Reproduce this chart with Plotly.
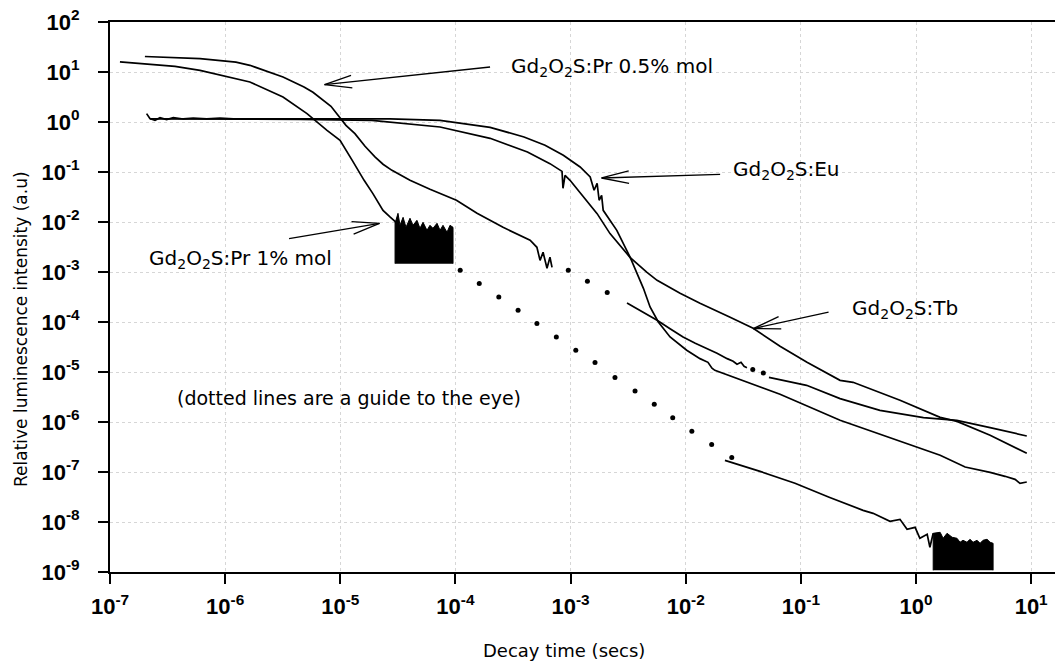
import math
import plotly.graph_objects as go

# ---------------- data (time in s, relative intensity) ----------------
# Gd2O2S:Pr 1% mol
pr1_t = [1.22e-7, 2.01e-7, 3.67e-7, 6.05e-7, 1.10e-6, 1.64e-6, 3.18e-6, 5.14e-6, 7.67e-6, 9.95e-6,
         1.27e-5, 1.61e-5, 1.92e-5, 2.35e-5, 2.70e-5, 3.05e-5]
pr1_i = [16.0, 14.7, 13.0, 10.8, 7.83, 6.31, 3.16, 1.47, 0.682, 0.431,
         0.171, 0.0682, 0.0370, 0.0171, 0.0126, 9.86e-3]
pr1_noise_t = [2.99e-5, 3.17e-5, 3.30e-5, 3.51e-5, 3.72e-5, 4.03e-5, 4.28e-5, 4.63e-5, 4.92e-5, 5.23e-5,
               5.66e-5, 6.01e-5, 6.38e-5, 6.92e-5, 7.35e-5, 7.80e-5, 8.45e-5, 8.97e-5, 9.53e-5]
pr1_noise_top = [9.42e-3, 0.0149, 8.59e-3, 0.0124, 7.83e-3, 0.0119, 8.59e-3, 0.0108, 7.48e-3, 9.86e-3,
                 6.82e-3, 8.59e-3, 7.48e-3, 9.42e-3, 6.82e-3, 8.59e-3, 6.22e-3, 8.59e-3, 7.83e-3]
pr1_noise_floor = 1.47e-3
pr1_guide_t = [1.10e-4, 1.61e-4, 2.38e-4, 3.50e-4, 5.10e-4, 7.52e-4, 1.11e-3, 1.63e-3, 2.43e-3, 3.63e-3,
               5.33e-3, 7.71e-3, 1.13e-2, 1.68e-2, 2.51e-2]
pr1_guide_i = [1.08e-3, 5.86e-4, 3.16e-4, 1.71e-4, 9.29e-5, 5.01e-5, 2.72e-5, 1.54e-5, 7.73e-6, 4.17e-6,
               2.26e-6, 1.22e-6, 6.52e-7, 3.53e-7, 1.94e-7]
pr1_tail_t = [2.19e-2, 4.42e-2, 8.89e-2, 0.176, 0.347, 0.424, 0.594, 0.726, 0.836, 0.982, 1.08, 1.25, 1.32]
pr1_tail_i = [1.71e-7, 1.03e-7, 5.94e-8, 3.12e-8, 1.71e-8, 1.49e-8, 1.03e-8, 1.13e-8, 7.14e-9, 7.83e-9,
              4.72e-9, 5.68e-9, 3.12e-9]
pr1_tail_noise_t = [1.41, 1.62, 1.72, 1.86, 2.06, 2.27, 2.41, 2.56, 2.77, 2.94, 3.13, 3.39, 3.60, 3.82,
                    4.14, 4.40, 4.67]
pr1_tail_noise_top = [5.94e-9, 6.22e-9, 4.72e-9, 5.94e-9, 4.94e-9, 4.72e-9, 3.93e-9, 4.31e-9, 3.93e-9,
                      4.51e-9, 3.93e-9, 4.31e-9, 3.75e-9, 4.31e-9, 4.51e-9, 3.93e-9, 3.75e-9]
pr1_tail_floor = 1.08e-9

# Gd2O2S:Pr 0.5% mol
pr05_t = [2.01e-7, 3.67e-7, 6.05e-7, 1.24e-6, 1.64e-6, 3.18e-6, 4.84e-6, 5.79e-6, 8.30e-6, 1.12e-5,
          1.34e-5, 1.64e-5, 2.00e-5, 2.35e-5, 2.81e-5, 4.03e-5, 6.01e-5, 1.02e-4, 1.54e-4, 2.59e-4,
          3.86e-4, 4.45e-4, 5.10e-4, 5.43e-4, 5.77e-4, 6.24e-4, 6.62e-4, 6.90e-4]
pr05_i = [20.4, 19.7, 18.5, 15.8, 13.6, 7.94, 5.01, 3.93, 2.06, 0.859,
          0.586, 0.327, 0.200, 0.143, 0.108, 0.0682, 0.0451, 0.0272, 0.0149, 7.83e-3,
          4.94e-3, 4.31e-3, 3.12e-3, 1.71e-3, 2.48e-3, 1.19e-3, 1.97e-3, 1.24e-3]
pr05_guide1_t = [9.55e-4, 1.40e-3, 2.08e-3]
pr05_guide1_i = [1.08e-3, 6.52e-4, 3.87e-4]
pr05_mid_t = [3.09e-3, 4.17e-3, 5.64e-3, 7.31e-3, 9.48e-3, 1.21e-2, 1.53e-2, 1.87e-2, 2.29e-2, 2.58e-2,
              2.79e-2, 3.02e-2, 3.21e-2, 3.40e-2]
pr05_mid_i = [2.40e-4, 1.64e-4, 1.08e-4, 7.31e-5, 5.01e-5, 3.75e-5, 2.94e-5, 2.37e-5, 1.85e-5, 1.64e-5,
              1.43e-5, 1.56e-5, 1.30e-5, 1.22e-5]
pr05_guide2_t = [3.82e-2, 4.72e-2]
pr05_guide2_i = [1.12e-5, 9.55e-6]
pr05_end_t = [5.28e-2, 0.112, 0.219, 0.486, 1.16, 2.26, 4.40, 9.16]
pr05_end_i = [7.83e-6, 5.42e-6, 2.94e-6, 1.71e-6, 1.22e-6, 1.08e-6, 7.73e-7, 5.25e-7]

# Gd2O2S:Eu
eu_t = [2.08e-7, 2.22e-7, 2.46e-7, 2.72e-7, 3.10e-7, 3.55e-7, 4.34e-7, 5.28e-7, 6.92e-7, 9.02e-7,
        1.18e-6, 2.99e-6, 8.65e-6, 2.70e-5, 7.35e-5, 2.00e-4, 3.94e-4, 6.00e-4, 8.65e-4, 1.21e-3,
        1.48e-3, 1.60e-3, 1.70e-3, 1.77e-3, 1.86e-3, 1.92e-3, 2.52e-3, 3.28e-3, 4.29e-3, 4.90e-3,
        5.78e-3, 7.31e-3, 1.02e-2, 1.33e-2, 1.56e-2, 1.69e-2, 1.79e-2, 3.27e-2, 6.59e-2, 0.219,
        0.684, 1.62, 2.67, 4.40, 5.93, 7.24, 8.00, 9.16]
eu_i = [1.47, 1.17, 1.08, 1.22, 1.12, 1.22, 1.15, 1.20, 1.15, 1.19,
        1.16, 1.17, 1.17, 1.16, 1.08, 0.783, 0.501, 0.342, 0.216, 0.126,
        0.0794, 0.0431, 0.0594, 0.0272, 0.0342, 0.0171, 6.82e-3, 2.00e-3, 4.72e-4, 2.00e-4,
        1.00e-4, 5.01e-5, 2.72e-5, 1.85e-5, 1.56e-5, 1.19e-5, 1.08e-5, 6.52e-6, 3.58e-6, 1.08e-6,
        4.31e-7, 2.16e-7, 1.26e-7, 9.86e-8, 8.20e-8, 7.14e-8, 5.94e-8, 6.31e-8]

# Gd2O2S:Tb
tb_t = [2.22e-7, 1.17e-6, 4.47e-6, 1.88e-5, 7.35e-5, 2.00e-4, 4.22e-4, 6.62e-4, 8.43e-4, 8.59e-4,
        8.95e-4, 9.89e-4, 1.70e-3, 2.20e-3, 3.09e-3, 3.28e-3, 4.61e-3, 5.64e-3, 8.93e-3, 1.33e-2,
        2.43e-2, 3.85e-2, 6.59e-2, 0.113, 0.219, 0.284, 0.726, 1.62, 2.27, 4.40, 9.16]
tb_i = [1.16, 1.16, 1.13, 1.08, 0.794, 0.472, 0.251, 0.147, 0.103, 0.0472,
        0.0859, 0.0682, 0.0147, 5.86e-3, 2.33e-3, 1.97e-3, 9.86e-4, 6.82e-4, 3.75e-4, 2.37e-4,
        1.24e-4, 7.48e-5, 3.27e-5, 1.56e-5, 6.82e-6, 6.22e-6, 2.72e-6, 1.24e-6, 1.03e-6, 5.42e-7, 2.37e-7]

# tick values / labels
x_tickvals = [1e-7, 1e-6, 1e-5, 1e-4, 1e-3, 1e-2, 1e-1, 1e0, 1e1]
x_ticktext = ["10<sup>-7</sup>", "10<sup>-6</sup>", "10<sup>-5</sup>", "10<sup>-4</sup>", "10<sup>-3</sup>",
              "10<sup>-2</sup>", "10<sup>-1</sup>", "10<sup>0</sup>", "10<sup>1</sup>"]
y_tickvals = [1e2, 1e1, 1e0, 1e-1, 1e-2, 1e-3, 1e-4, 1e-5, 1e-6, 1e-7, 1e-8, 1e-9]
y_ticktext = ["10<sup>2</sup>", "10<sup>1</sup>", "10<sup>0</sup>", "10<sup>-1</sup>", "10<sup>-2</sup>",
              "10<sup>-3</sup>", "10<sup>-4</sup>", "10<sup>-5</sup>", "10<sup>-6</sup>", "10<sup>-7</sup>",
              "10<sup>-8</sup>", "10<sup>-9</sup>"]

# labels: (text, x, y) anchored at left/middle ; arrows: (tail_t, tail_i, tip_t, tip_i)
labels = [
    ("Gd<sub>2</sub>O<sub>2</sub>S:Pr 0.5% mol", 2.91e-4, 12.4),
    ("Gd<sub>2</sub>O<sub>2</sub>S:Pr 1% mol", 2.09e-7, 1.84e-3),
    ("Gd<sub>2</sub>O<sub>2</sub>S:Eu", 2.47e-2, 0.109),
    ("Gd<sub>2</sub>O<sub>2</sub>S:Tb", 0.265, 1.84e-4),
]
note = ("(dotted lines are a guide to the eye)", 3.66e-7, 3.05e-6)
arrows = [
    (2.00e-4, 12.6, 7.30e-6, 5.60),
    (3.59e-6, 4.66e-3, 2.19e-5, 9.42e-3),
    (1.99e-2, 0.0899, 1.86e-3, 0.0759),
    (0.174, 1.58e-4, 3.86e-2, 7.38e-5),
]

# ---------------- layout constants ----------------
W, H = 1055, 662
M = dict(l=110, r=0, t=22, b=90)
XR = [-7, 1.207]
YR = [-9, 2]
SX = (W - M["l"] - M["r"]) / (XR[1] - XR[0])
SY = (H - M["t"] - M["b"]) / (YR[1] - YR[0])


def to_paper(t, i):
    return ((math.log10(t) - XR[0]) / (XR[1] - XR[0]),
            (math.log10(i) - YR[0]) / (YR[1] - YR[0]))


fig = go.Figure()
LW = 1.7


def add_line(t, i, w=LW):
    fig.add_trace(go.Scatter(x=t, y=i, mode="lines", line=dict(color="black", width=w),
                             hoverinfo="skip", showlegend=False))


def add_band(t, top, floor):
    xs = [t[0]] + list(t) + [t[-1]]
    ys = [floor] + list(top) + [floor]
    fig.add_trace(go.Scatter(x=xs, y=ys, mode="lines", fill="toself", fillcolor="black",
                             line=dict(color="black", width=1), hoverinfo="skip", showlegend=False))


def add_dots(t, i):
    fig.add_trace(go.Scatter(x=t, y=i, mode="markers", marker=dict(color="black", size=5),
                             hoverinfo="skip", showlegend=False))


add_line(pr1_t + [pr1_noise_t[0]], pr1_i + [pr1_noise_top[0]])
add_band(pr1_noise_t, pr1_noise_top, pr1_noise_floor)
add_dots(pr1_guide_t, pr1_guide_i)
add_line(pr1_tail_t + [pr1_tail_noise_t[0]], pr1_tail_i + [pr1_tail_noise_top[0]])
add_band(pr1_tail_noise_t, pr1_tail_noise_top, pr1_tail_floor)

add_line(pr05_t, pr05_i)
add_dots(pr05_guide1_t, pr05_guide1_i)
add_line(pr05_mid_t, pr05_mid_i)
add_dots(pr05_guide2_t, pr05_guide2_i)
add_line(pr05_end_t, pr05_end_i)

add_line(eu_t, eu_i)
add_line(tb_t, tb_i)

shapes = []
annotations = []
ARROW_LEN, ARROW_ANG = 28, math.radians(13)
for tail_t, tail_i, tip_t, tip_i in arrows:
    p_tail = to_paper(tail_t, tail_i)
    p_tip = to_paper(tip_t, tip_i)
    shapes.append(dict(type="line", xref="paper", yref="paper", x0=p_tail[0], y0=p_tail[1],
                       x1=p_tip[0], y1=p_tip[1], line=dict(color="black", width=1.3)))
    dx = (math.log10(tail_t) - math.log10(tip_t)) * SX
    dy = (math.log10(tail_i) - math.log10(tip_i)) * SY
    a = math.atan2(dy, dx)
    for s in (-1, 1):
        bx = ARROW_LEN * math.cos(a + s * ARROW_ANG) / SX / (XR[1] - XR[0])
        by = ARROW_LEN * math.sin(a + s * ARROW_ANG) / SY / (YR[1] - YR[0])
        shapes.append(dict(type="line", xref="paper", yref="paper", x0=p_tip[0], y0=p_tip[1],
                           x1=p_tip[0] + bx, y1=p_tip[1] + by, line=dict(color="black", width=1.3)))

TXT = dict(family="DejaVu Sans", size=20, color="black")
for text, t, i in labels:
    px_, py_ = to_paper(t, i)
    annotations.append(dict(text=text, x=px_, y=py_, xref="paper", yref="paper", xanchor="left",
                            yanchor="middle", showarrow=False, font=TXT))
px_, py_ = to_paper(note[1], note[2])
annotations.append(dict(text=note[0], x=px_, y=py_, xref="paper", yref="paper", xanchor="left",
                        yanchor="middle", showarrow=False,
                        font=dict(family="DejaVu Sans", size=19, color="black")))
# axis titles
annotations.append(dict(text="Decay time (secs)", x=(563.5 - M["l"]) / (W - M["l"] - M["r"]),
                        y=(H - M["b"] - 650) / (H - M["t"] - M["b"]), xref="paper", yref="paper",
                        xanchor="center", yanchor="middle", showarrow=False,
                        font=dict(family="DejaVu Sans", size=18, color="black")))
annotations.append(dict(text="Relative luminescence intensity (a.u)", x=(21 - M["l"]) / (W - M["l"] - M["r"]),
                        y=(H - M["b"] - 329) / (H - M["t"] - M["b"]), xref="paper", yref="paper",
                        xanchor="center", yanchor="middle", textangle=-90, showarrow=False,
                        font=dict(family="DejaVu Sans", size=17, color="black")))

TICKFONT = dict(family="Liberation Sans", size=22, color="black", weight="bold")
GRID = "#d6d6d6"
fig.update_xaxes(type="log", range=XR, tickvals=x_tickvals, ticktext=x_ticktext, ticks="outside",
                 ticklen=10, tickwidth=1.5, tickcolor="black", showline=True, linecolor="black",
                 linewidth=2, mirror=True, showgrid=True, gridcolor=GRID, griddash="dot",
                 gridwidth=1, tickfont=TICKFONT, zeroline=False, ticklabelstandoff=4)
fig.update_yaxes(type="log", range=YR, tickvals=y_tickvals, ticktext=y_ticktext, ticks="outside",
                 ticklen=10, tickwidth=1.5, tickcolor="black", showline=True, linecolor="black",
                 linewidth=2, mirror=False, showgrid=True, gridcolor=GRID, griddash="dot",
                 gridwidth=1, tickfont=TICKFONT, zeroline=False, ticklabelstandoff=14)
fig.update_layout(width=W, height=H, margin=M, paper_bgcolor="white", plot_bgcolor="white",
                  showlegend=False, shapes=shapes, annotations=annotations)
fig.write_html("out.html")
